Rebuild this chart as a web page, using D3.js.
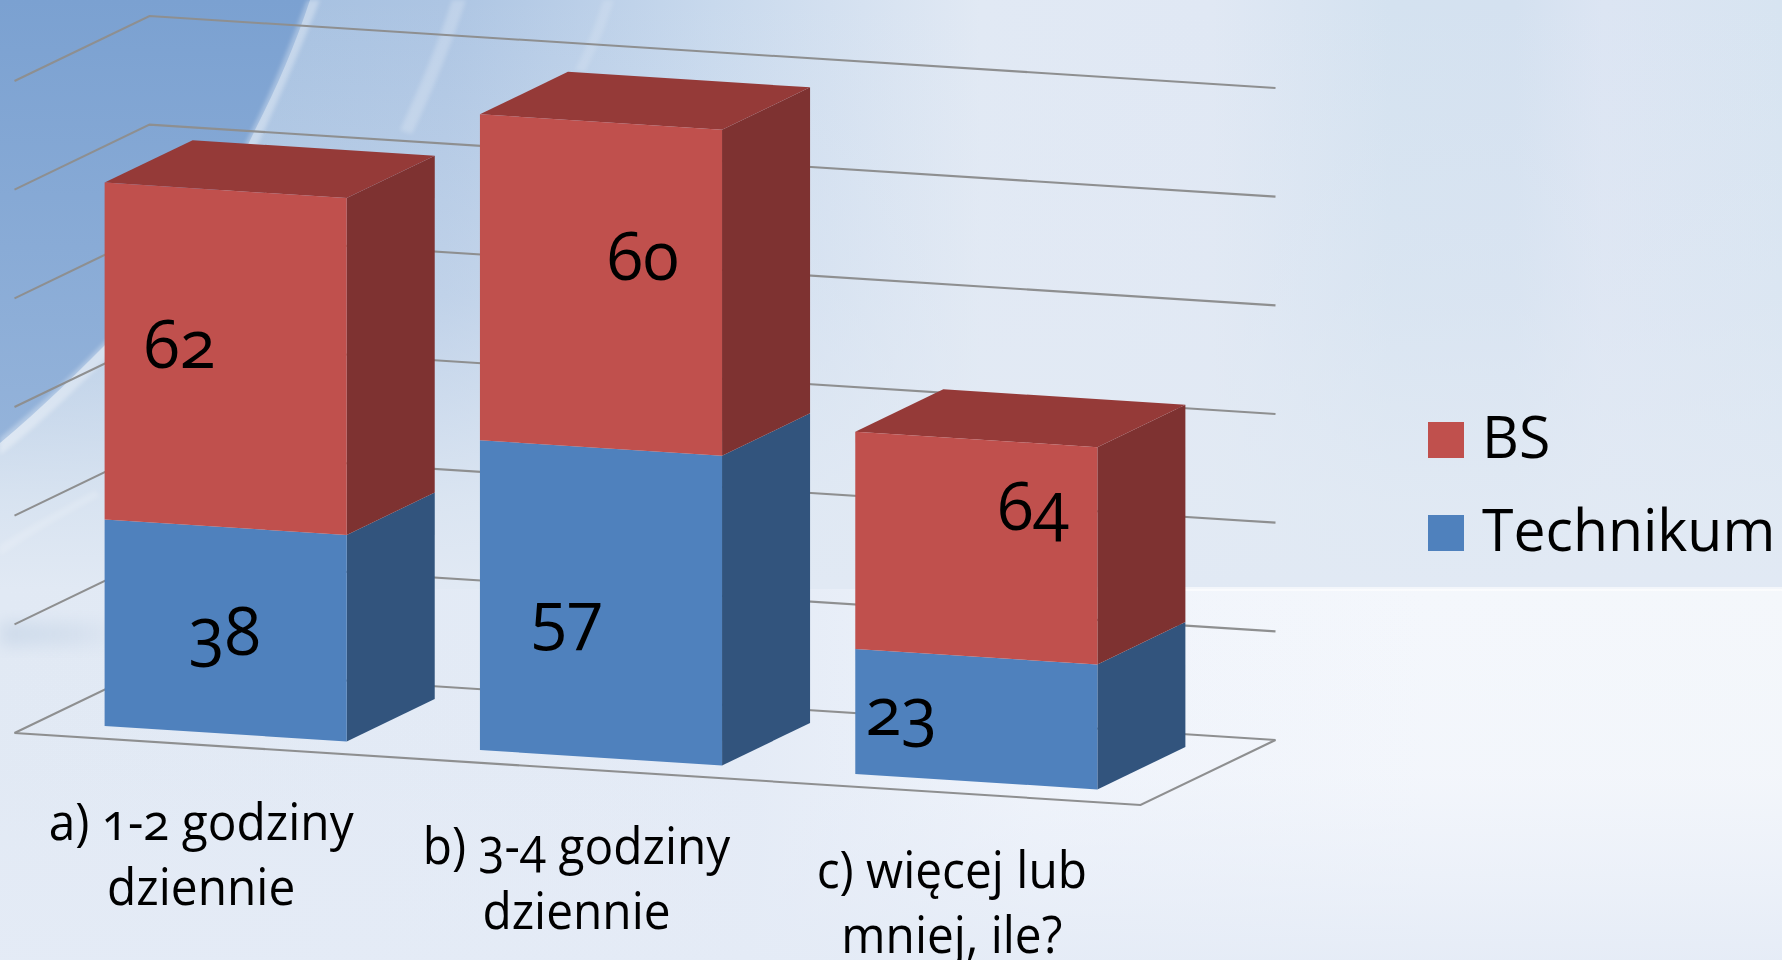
<!DOCTYPE html>
<html><head><meta charset="utf-8">
<script src="https://cdn.jsdelivr.net/npm/d3@7"></script>
<style>
html,body{margin:0;padding:0;background:#e6edf6;overflow:hidden}
svg{display:block}
text{font-family:"Open Sans",sans-serif;font-feature-settings:"onum" 1,"lnum" 0;fill:#000}
</style></head><body>
<svg id="c" width="1782" height="960"></svg>
<script>
const categories = [["a) 1-2 godziny","dziennie"],["b) 3-4 godziny","dziennie"],["c) więcej lub","mniej, ile?"]];
const seriesNames = ["Technikum","BS"];
const technikum = [38,57,23];
const bs = [62,60,40];            // drawn heights
const technikumLabels = [38,57,23];
const bsLabels = [62,60,64];      // labels as printed (the third differs from its drawn height)
const gridTicks = [0,20,40,60,80,100,120];
const legendOrder = ["BS","Technikum"];
const faceColors = {Technikum:{front:"#4f81bd",side:"#32547d",top:"#3e6797"},BS:{front:"#c0504d",side:"#7e3231",top:"#953a38"}};
// hand-placed data-label nudges, as in the source slide (px from front-face centre)
const labelNudge = {Technikum:[[-1,25],[-34,36],[-75,16]],BS:[[-46,9],[42,-5],[57,-18]]};

const W=1782,H=960, svg=d3.select("#c");
const defs=svg.append("defs");
function lg(id,x1,y1,x2,y2,stops){const g=defs.append("linearGradient").attr("id",id).attr("x1",x1).attr("y1",y1).attr("x2",x2).attr("y2",y2);
 stops.forEach(s=>g.append("stop").attr("offset",s[0]).attr("stop-color",s[1]).attr("stop-opacity",s[2]===undefined?1:s[2]));}
lg("top",0,0,1,0,[[0,"#9dbbdd"],[.25,"#adc5e3"],[.4,"#c8d9ed"],[.55,"#e1e9f4"],[.68,"#e0e8f4"],[.78,"#d4e2f0"],[.85,"#d4e1f0"],[.9,"#dce5f3"],[1,"#d7e4f1"]]);
lg("fadeV",0,0,0,1,[[0,"#e3eaf4",0],[.5,"#e3eaf4",.35],[.85,"#e2eaf4",.85],[1,"#e1e9f4",1]]);
lg("wedge",0,0,0,1,[[0,"#7ba1d1"],[1,"#94b3da"]]);
lg("botH",0,0,1,0,[[0,"#e1e9f4"],[.42,"#e4ebf6"],[.58,"#f0f4fb"],[.8,"#f4f7fc"],[1,"#f4f7fb"]]);
lg("botV",0,0,0,1,[[0,"#e6ecf7",0],[.5,"#e6ecf7",.1],[1,"#e4ebf6",.9]]);
lg("hz",0,0,1,0,[[0,"#fff",0],[.5,"#fff",0],[.62,"#fff",.6],[1,"#fff",.6]]);
lg("band",0,0,1,0,[[0,"#c9d7e8",.8],[.6,"#c9d7e8",.5],[1,"#c9d7e8",0]]);
const blur=defs.append("filter").attr("id","b").attr("x","-20%").attr("y","-20%").attr("width","140%").attr("height","140%");
blur.append("feGaussianBlur").attr("stdDeviation",2);
const blur2=defs.append("filter").attr("id","b2").attr("x","-20%").attr("y","-50%").attr("width","140%").attr("height","200%");
blur2.append("feGaussianBlur").attr("stdDeviation",8);

svg.append("rect").attr("width",W).attr("height",589).attr("fill","url(#top)");
svg.append("rect").attr("width",W).attr("height",589).attr("fill","url(#fadeV)");
// decorative swooshes of the slide background
svg.append("path").attr("d","M0 0H310C295 45 278 85 255 130C220 205 175 275 120 330C80 370 40 410 0 443Z").attr("fill","url(#wedge)");
const sw=svg.append("g").attr("filter","url(#b)").attr("fill","#fff");
sw.append("path").attr("d","M0 455C45 420 85 380 125 340C180 285 228 208 262 135C282 92 302 45 320 0H307C290 45 273 88 252 130C218 203 172 272 118 328C80 368 40 405 0 438Z").attr("opacity",.32);
sw.append("path").attr("d","M400 130C418 90 438 45 452 0H466C450 48 432 92 412 134Z").attr("opacity",.22);
sw.append("path").attr("d","M575 70C586 48 596 24 603 0H614C606 26 596 50 585 72Z").attr("opacity",.15);
sw.append("path").attr("d","M0 545C30 525 60 510 95 490L100 496C65 515 30 535 0 556Z").attr("opacity",.16);
svg.append("rect").attr("y",589).attr("width",W).attr("height",371).attr("fill","url(#botH)");
svg.append("rect").attr("y",589).attr("width",W).attr("height",371).attr("fill","url(#botV)");
svg.append("rect").attr("y",587).attr("width",W).attr("height",4).attr("fill","url(#hz)");
svg.append("rect").attr("y",622).attr("width",130).attr("height",24).attr("fill","url(#band)").attr("filter","url(#b2)");

// projection: oblique 3-D built from scales
const u=d3.scaleBand().domain(d3.range(categories.length)).range([0,1]).paddingInner(.355).paddingOuter(.1775);
const y=d3.scaleLinear().domain([0,120]).range([0,652]);
const fx=d3.scaleLinear().domain([0,1]).range([0,1126]), fy=d3.scaleLinear().domain([0,1]).range([0,72]);
const dx=d3.scaleLinear().domain([0,1]).range([0,135]), dy=d3.scaleLinear().domain([0,1]).range([0,-65]);
const P=(a,v,d)=>[14.5+fx(a)+dx(d),733+fy(a)+dy(d)-y(v)];
const poly=pts=>"M"+pts.map(p=>p.join(",")).join("L")+"Z";
const line=pts=>"M"+pts.map(p=>p.join(",")).join("L");

// gridlines: side wall + back wall
const g=svg.append("g").attr("fill","none").attr("stroke","#8e8f90").attr("stroke-width",2.1);
g.selectAll("path.g").data(gridTicks).join("path").attr("class","g").attr("d",t=>line([P(0,t,0),P(0,t,1),P(1,t,1)]));
g.append("path").attr("d",line([P(0,0,0),P(1,0,0),P(1,0,1)]));

// stacked bars
const rows=categories.map((c,i)=>({i,Technikum:technikum[i],BS:bs[i]}));
const stacked=d3.stack().keys(seriesNames)(rows);
const d0=.174,d1=.826;
const bars=svg.append("g");
stacked.forEach(s=>{const col=faceColors[s.key];
 s.forEach((seg,i)=>{const a=u(i),b=a+u.bandwidth(),v0=seg[0],v1=seg[1];
  bars.append("path").attr("d",poly([P(b,v0,d0),P(b,v0,d1),P(b,v1,d1),P(b,v1,d0)])).attr("fill",col.side);
  if(s.key==="BS")bars.append("path").attr("d",poly([P(a,v1,d0),P(a,v1,d1),P(b,v1,d1),P(b,v1,d0)])).attr("fill",col.top);
  bars.append("path").attr("d",poly([P(a,v0,d0),P(b,v0,d0),P(b,v1,d0),P(a,v1,d0)])).attr("fill",col.front);
 });
});

// text helper: the source face is narrower and taller than Open Sans
const put=(x,yy,size,sx,anchor,t)=>svg.append("text").attr("transform",`translate(${x},${yy}) scale(${sx},1)`).attr("text-anchor",anchor).attr("font-size",size).text(t);

// data labels
stacked.forEach(s=>s.forEach((seg,i)=>{
 const mid=u(i)+u.bandwidth()/2,c=P(mid,(seg[0]+seg[1])/2,d0),n=labelNudge[s.key][i];
 put(c[0]+n[0],c[1]+n[1],68,.97,"middle",s.key==="BS"?bsLabels[i]:technikumLabels[i]);
}));

// category labels
categories.forEach((lines,i)=>{const p=P(u(i)+u.bandwidth()/2,0,0);
 lines.forEach((t,j)=>put(p[0]-1,p[1]+95+j*65,52,.92,"middle",t));
});

// legend
const ly=d3.scalePoint().domain(legendOrder).range([440,533]);
const leg=svg.append("g");
legendOrder.forEach(k=>{
 leg.append("rect").attr("x",1428).attr("y",ly(k)-18).attr("width",36).attr("height",36).attr("fill",faceColors[k].front);
 put(1482,ly(k)+18,58,.985,"start",k);
});
</script></body></html>
